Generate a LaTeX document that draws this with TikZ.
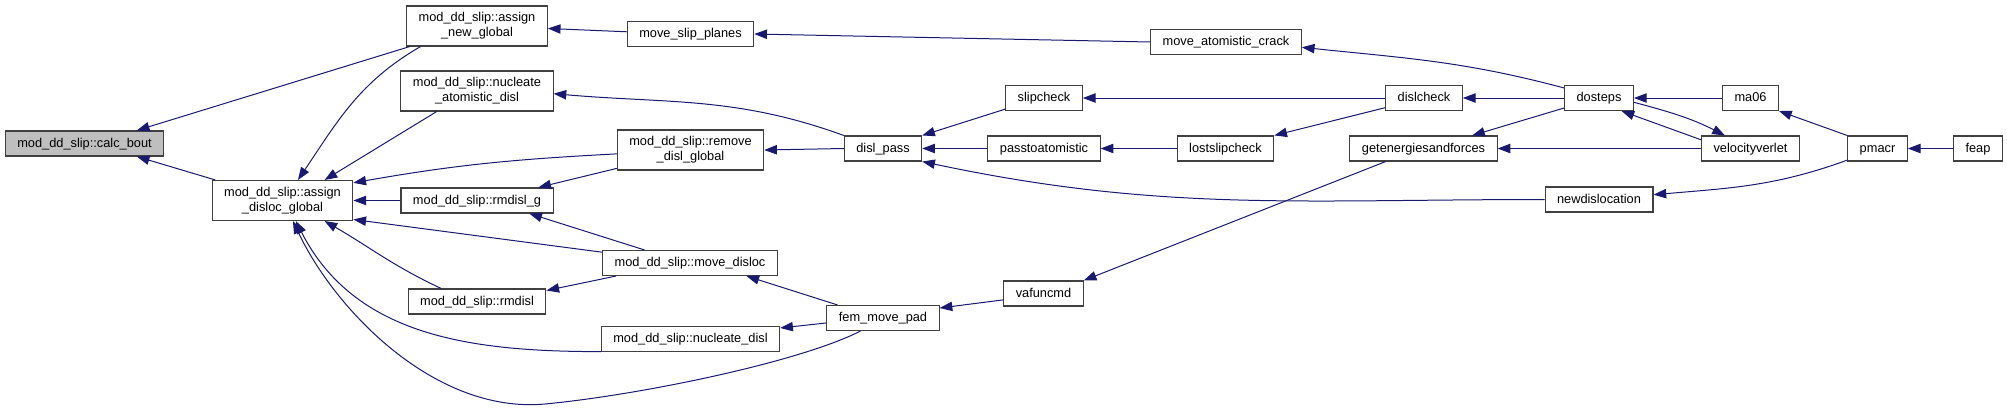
\documentclass[tikz,border=0pt]{standalone}
\usepackage{fontspec}
\setmainfont{Liberation Sans}
\usetikzlibrary{arrows.meta}
\definecolor{cedge}{HTML}{191970}
\definecolor{cborder}{HTML}{404040}
\definecolor{cmain}{HTML}{BFBFBF}

\begin{document}
\begin{tikzpicture}[
  x=0.75pt, y=-0.75pt,
  font=\fontsize{9.6}{11.25}\selectfont,
  >={Triangle[length=9.5pt, width=7pt]},
  fnbase/.style={draw=cborder, line width=0.8pt, fill=white, inner xsep=9pt,
                 inner ysep=0pt},
  fn/.style={fnbase, minimum height=18.75pt, text height=7.2pt, text depth=1.8pt},
  fnmain/.style={fn, fill=cmain},
  fntwo/.style={fnbase, align=center, minimum height=30pt},
  arr/.style={->, line width=0.75pt, draw=cedge},
  ]
\useasboundingbox (0,0) rectangle (2007,411);

\node[fnmain] (calcbout) at (84.5,143.5) {mod\_dd\_slip::calc\_bout};
\node[fntwo] (adglobal) at (282.5,200.5) {mod\_dd\_slip::assign\\\_disloc\_global};
\node[fntwo] (anglobal) at (477,26) {mod\_dd\_slip::assign\\\_new\_global};
\node[fntwo] (nucatom) at (477,91) {mod\_dd\_slip::nucleate\\\_atomistic\_disl};
\node[fn] (rmdislg) at (477,200.5) {mod\_dd\_slip::rmdisl\_g};
\node[fn] (rmdisl) at (477,301.5) {mod\_dd\_slip::rmdisl};
\node[fn] (moveslip) at (690.5,34) {move\_slip\_planes};
\node[fntwo] (remglobal) at (690.5,150) {mod\_dd\_slip::remove\\\_disl\_global};
\node[fn] (movedisloc) at (690,263) {mod\_dd\_slip::move\_disloc};
\node[fn] (nucdisl) at (690.5,339) {mod\_dd\_slip::nucleate\_disl};
\node[fn] (dislpass) at (883,148.5) {disl\_pass};
\node[fn] (fempad) at (883,318) {fem\_move\_pad};
\node[fn] (slipcheck) at (1044,98) {slipcheck};
\node[fn] (passtoat) at (1044,148.5) {passtoatomistic};
\node[fn] (vafuncmd) at (1043.5,293.5) {vafuncmd};
\node[fn] (movecrack) at (1226,42) {move\_atomistic\_crack};
\node[fn] (lostslip) at (1225.5,148.5) {lostslipcheck};
\node[fn] (dislcheck) at (1424,98) {dislcheck};
\node[fn] (getenergies) at (1423.5,148.5) {getenergiesandforces};
\node[fn] (dosteps) at (1599,98) {dosteps};
\node[fn] (newdisl) at (1599,199.5) {newdislocation};
\node[fn] (ma06) at (1750.5,98) {ma06};
\node[fn] (vverlet) at (1750.5,148.5) {velocityverlet};
\node[fn] (pmacr) at (1877.5,148.5) {pmacr};
\node[fn] (feap) at (1978,148.5) {feap};

\draw[arr] (anglobal.197) -- (calcbout.14);
\draw[arr] (adglobal.163) -- (calcbout.346);
\draw[arr] (anglobal.200) to[out=210, in=56] (adglobal.53);
\draw[arr] (nucatom.207) -- (adglobal.26);
\draw[arr] (remglobal.183) to[out=183, in=10] (adglobal.14);
\draw[arr] (rmdislg) -- (adglobal);
\draw[arr] (movedisloc.173) -- (adglobal.345);
\draw[arr] (rmdisl.160) to[out=155, in=330] (adglobal.334);
\draw[arr] (nucdisl.188) to[out=180, in=297] (adglobal.303);
\draw[arr] (fempad.210) .. controls (800,362) and (640,395) .. (545,404)
  .. controls (435,414) and (335,310) .. (adglobal.297);

\draw[arr] (remglobal.194) -- (rmdislg.12);
\draw[arr] (movedisloc.164) -- (rmdislg.346);
\draw[arr] (movedisloc.190) -- (rmdisl.9);
\draw[arr] (fempad.164) -- (movedisloc.347);
\draw[arr] (fempad.185) -- (nucdisl.7);
\draw[arr] (moveslip.178) -- (anglobal.358);
\draw[arr] (movecrack.west) -- (moveslip.east);

\draw[arr] (dislpass.west) -- (remglobal.east);
\draw[arr] (dislpass.north west) to[out=160, in=355] (nucatom.358);
\draw[arr] (slipcheck.196) -- (dislpass.north east);
\draw[arr] (passtoat) -- (dislpass);
\draw[arr] (newdisl.west) to[out=180, in=348] (dislpass.south east);
\draw[arr] (lostslip) -- (passtoat);
\draw[arr] (dislcheck) -- (slipcheck);
\draw[arr] (dislcheck.194) -- (lostslip.north east);

\draw[arr] (dosteps.164) to[out=165, in=354] (movecrack.356);
\draw[arr] (dosteps) -- (dislcheck);
\draw[arr] (dosteps.196) -- (getenergies.15);
\draw[arr] (vverlet) -- (getenergies);
\draw[arr] (getenergies.199) -- (vafuncmd.north east);
\draw[arr] (vafuncmd.189) -- (fempad.10);
\draw[arr] (ma06) -- (dosteps);
\draw[arr] (vverlet.170) -- (dosteps.330);
\draw[arr] (dosteps.353) to[out=-15, in=153] (vverlet.153);
\draw[arr] (pmacr.north west) -- (ma06.south east);
\draw[arr] (pmacr.201) to[out=200, in=5] (newdisl.5);
\draw[arr] (feap) -- (pmacr);
\end{tikzpicture}
\end{document}
